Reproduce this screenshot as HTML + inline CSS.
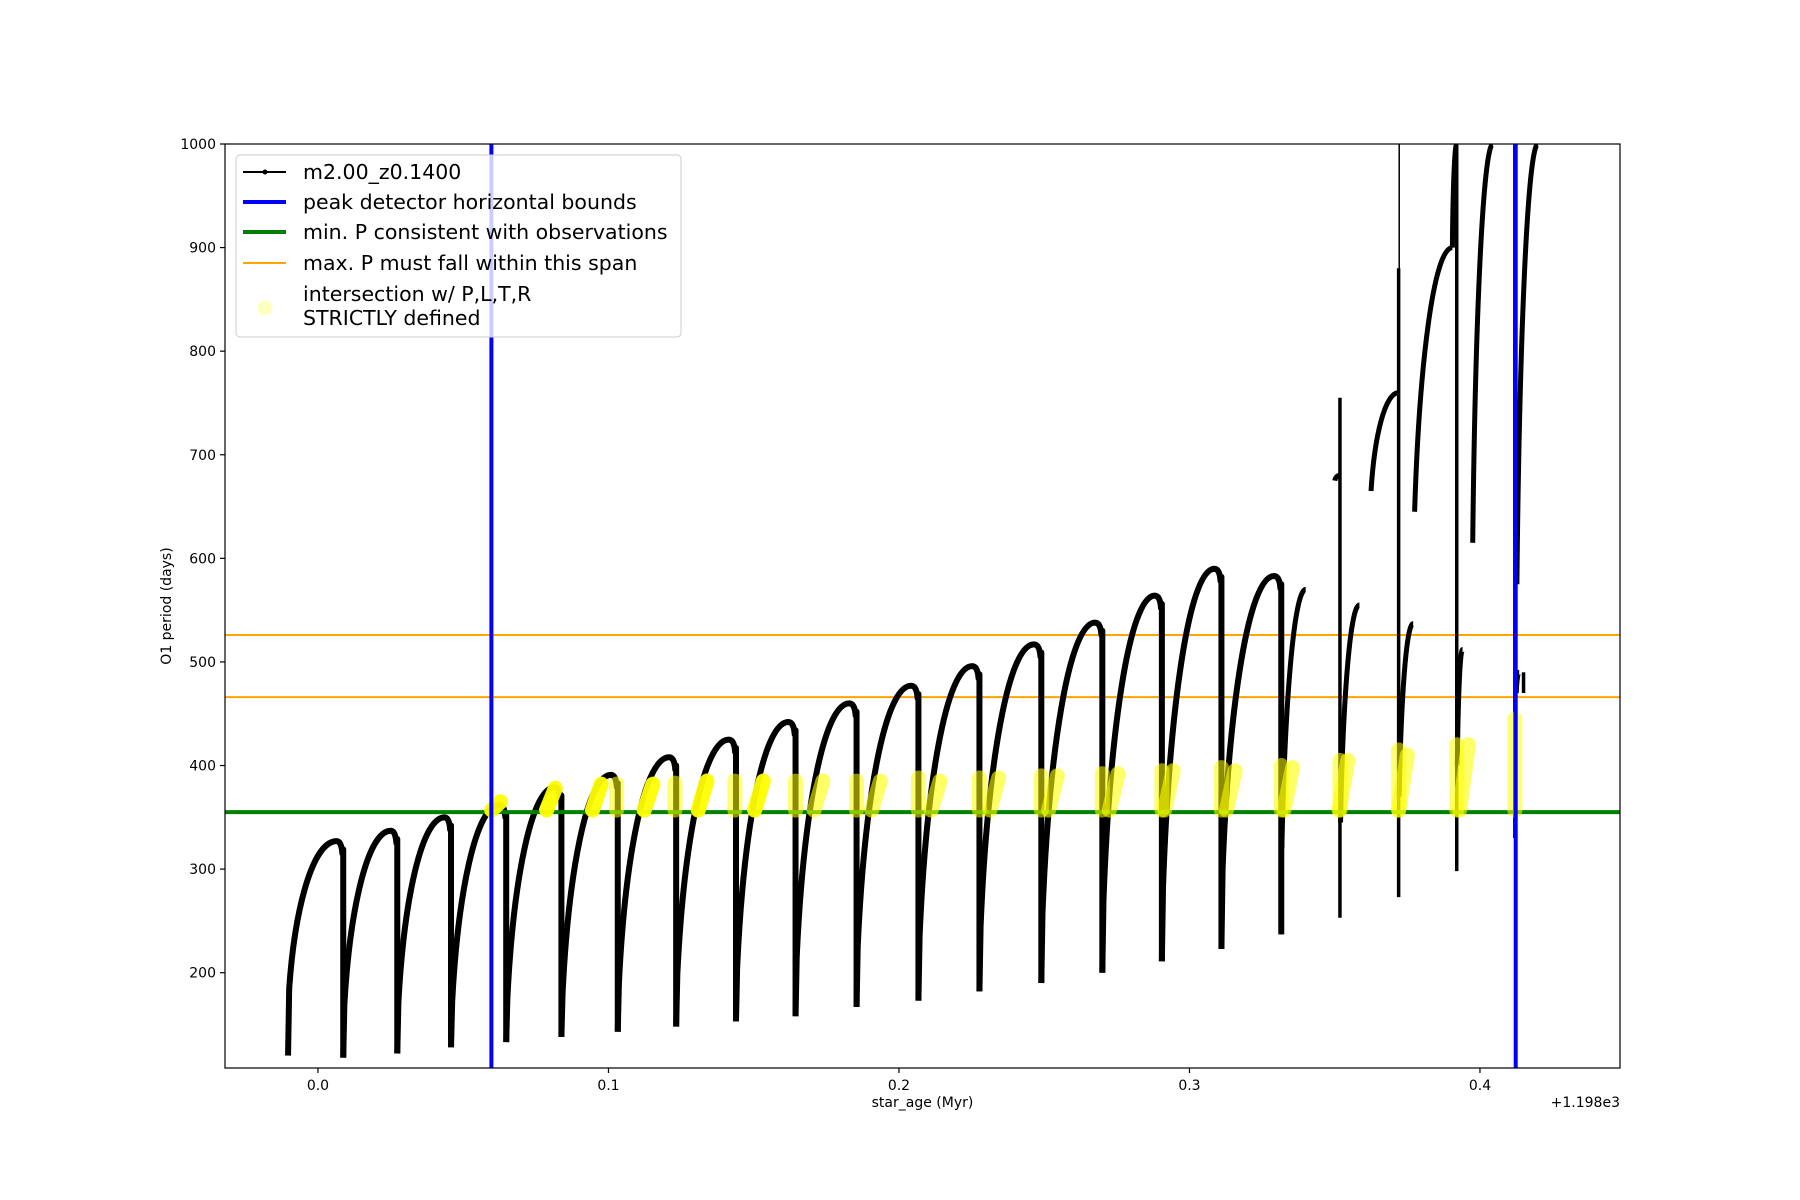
<!DOCTYPE html>
<html><head><meta charset="utf-8">
<style>
html,body{margin:0;padding:0;background:#fff;}
svg{display:block;font-family:"DejaVu Sans","Liberation Sans",sans-serif;}
</style></head>
<body>
<svg id="chart" width="1800" height="1200" viewBox="0 0 1800 1200" xmlns="http://www.w3.org/2000/svg">
<rect x="0" y="0" width="1800" height="1200" fill="#fff"/>
<g id="plot"></g>
<g id="axes"></g>
<g id="legend"></g>
</svg>
<script>
// ---- data ----
const pulseAges = [-0.0103, 0.0087, 0.0273, 0.0458, 0.0648, 0.0838, 0.1032, 0.1233, 0.1439, 0.1644, 0.1854, 0.2067, 0.2277, 0.249, 0.27, 0.2905, 0.311, 0.3316];
const troughP = [120, 118, 122, 128, 133, 138, 143, 148, 153, 158, 167, 173, 182, 190, 200, 211, 223, 237];
const restartP = [185, 170, 172, 172, 175, 180, 190, 198, 205, 215, 225, 235, 245, 257, 270, 283, 300];
const peakP = [327, 337, 350, 362, 379, 391, 408, 425, 442, 460, 477, 496, 517, 538, 564, 590, 583];
// late, irregular branches: [ageStart, pStart, ageEnd, pEnd]
const lateBranches = [
  [0.3318, 320, 0.3400, 570],
  [0.3520, 345, 0.3585, 555],
  [0.3722, 370, 0.3770, 537],
  [0.3922, 400, 0.3940, 512],
  [0.4125, 470, 0.4135, 490],
  [0.3500, 675, 0.3516, 680],
  [0.3625, 665, 0.3720, 760],
  [0.3775, 645, 0.3905, 900],
  [0.3905, 900, 0.3920, 1000],
  [0.3975, 615, 0.4045, 1000],
  [0.4127, 575, 0.4200, 1000]
];
// late vertical spikes: [age, pLow, pHigh]
const lateSpikes = [[0.3316, 237, 570], [0.3518, 253, 755], [0.3720, 273, 880], [0.3920, 298, 1000], [0.4120, 330, 1000], [0.4150, 470, 490]];
const thinSpikeAge = [0.3722];
// yellow intersection markers
const yellowRiseAges = [0.0613, 0.0802, 0.0960, 0.1138, 0.1324, 0.1518, 0.1723, 0.1921, 0.2126, 0.2328, 0.2530, 0.2739, 0.2929, 0.3142, 0.3340, 0.3530, 0.3735, 0.3945];
const yellowRiseHi = [365, 378, 382, 382, 385, 385, 385, 385, 385, 388, 390, 392, 395, 395, 398, 405, 410, 420];
const yellowDropAges = [0.1028, 0.1229, 0.1435, 0.1644, 0.1854, 0.2067, 0.2277, 0.249, 0.27, 0.2905, 0.311, 0.3316, 0.3518, 0.372, 0.392, 0.412];
const yellowDropHi = [382, 383, 385, 385, 385, 388, 388, 390, 392, 395, 398, 400, 405, 415, 420, 445];
const blueBounds = [0.0597, 0.4123];
const greenMinP = [355];
const orangeSpan = [466, 526];
const xTicks = [0.0, 0.1, 0.2, 0.3, 0.4];
const xTickLabels = ["0.0", "0.1", "0.2", "0.3", "0.4"];
const yTicks = [200, 300, 400, 500, 600, 700, 800, 900, 1000];
const yTickLabels = ["200", "300", "400", "500", "600", "700", "800", "900", "1000"];

// ---- axes ----
const L = 225, R = 1620, T = 144, B = 1068;
const xmin = -0.0320, xmax = 0.4482, ymin = 108, ymax = 1000;
function xS(v) { return L + (v - xmin) / (xmax - xmin) * (R - L); }
function yS(p) { return T + (ymax - p) / (ymax - ymin) * (B - T); }
const NS = "http://www.w3.org/2000/svg";
function mk(tag, parent, attrs) {
  const e = document.createElementNS(NS, tag);
  for (const k in attrs) e.setAttribute(k, attrs[k]);
  parent.appendChild(e);
  return e;
}
const plot = document.getElementById('plot');
const axes = document.getElementById('axes');
const legend = document.getElementById('legend');

const clip = mk('clipPath', plot, { id: 'clipA' });
mk('rect', clip, { x: L, y: T, width: R - L, height: B - T });
const g = mk('g', plot, { 'clip-path': 'url(#clipA)' });

function riseCurve(t0, r, t1, p) {
  const d = t1 - t0;
  return `C ${xS(t0 + 0.12 * d)} ${yS(r + 0.55 * (p - r))} ${xS(t0 + 0.5 * d)} ${yS(p)} ${xS(t1)} ${yS(p)}`;
}

for (let i = 0; i < orangeSpan.length; i++) {
  const o = mk('line', g, { x1: L, x2: R, y1: yS(orangeSpan[i]), y2: yS(orangeSpan[i]), stroke: '#ffa500', 'stroke-width': 2 });
  
  
}

for (let i = 0; i < peakP.length; i++) {
  const t0 = pulseAges[i], t1 = pulseAges[i + 1];
  const dur = t1 - t0;
  const peakT = t0 + 0.88 * dur;
  let d = `M ${xS(t0)} ${yS(troughP[i])} L ${xS(t0 + 0.0004)} ${yS(restartP[i])} `;
  d += riseCurve(t0 + 0.0004, restartP[i], peakT, peakP[i]);
  d += ` Q ${xS(t1 - 0.0006)} ${yS(peakP[i])} ${xS(t1 - 0.0003)} ${yS(peakP[i] - 12)}`;
  d += ` L ${xS(t1)} ${yS(peakP[i] - 8)} L ${xS(t1)} ${yS(troughP[i + 1])}`;
  const c = mk('path', g, { d: d, fill: 'none', stroke: '#000', 'stroke-width': 6, 'stroke-linejoin': 'round' });
  
  
}
for (let i = 0; i < lateBranches.length; i++) {
  const b = lateBranches[i];
  const d = `M ${xS(b[0])} ${yS(b[1])} ` + riseCurve(b[0], b[1], b[2], b[3]);
  const c = mk('path', g, { d: d, fill: 'none', stroke: '#000', 'stroke-width': 5 });
  
  
}
for (let i = 0; i < lateSpikes.length; i++) {
  const s = lateSpikes[i];
  const c = mk('line', g, { x1: xS(s[0]), x2: xS(s[0]), y1: yS(s[1]), y2: yS(s[2]), stroke: '#000', 'stroke-width': 3.5 });
  
  
}
for (let i = 0; i < thinSpikeAge.length; i++) {
  const c = mk('line', g, { x1: xS(thinSpikeAge[i]), x2: xS(thinSpikeAge[i]), y1: yS(ymax), y2: yS(600), stroke: '#000', 'stroke-width': 1.5 });
  
  
}

for (let i = 0; i < greenMinP.length; i++) {
  const gl = mk('line', g, { x1: L, x2: R, y1: yS(greenMinP[i]), y2: yS(greenMinP[i]), stroke: '#008000', 'stroke-width': 4 });
  
  
}

for (let i = 0; i < yellowRiseAges.length; i++) {
  const a = yellowRiseAges[i];
  const y = mk('line', g, { x1: xS(a - 0.0015), y1: yS(357), x2: xS(a + 0.0015), y2: yS(yellowRiseHi[i]), stroke: '#ffff00', 'stroke-opacity': i < 6 ? 0.95 : 0.6, 'stroke-width': 15, 'stroke-linecap': 'round' });
  
  
}
for (let i = 0; i < yellowDropAges.length; i++) {
  const a = yellowDropAges[i];
  const y = mk('line', g, { x1: xS(a), y1: yS(357), x2: xS(a), y2: yS(yellowDropHi[i]), stroke: '#ffff00', 'stroke-opacity': 0.55, 'stroke-width': 15, 'stroke-linecap': 'round' });
  
  
}

for (let i = 0; i < blueBounds.length; i++) {
  const bl = mk('line', g, { x1: xS(blueBounds[i]), x2: xS(blueBounds[i]), y1: T, y2: B, stroke: '#0000ff', 'stroke-width': 4 });
  
  
}

const fr = mk('rect', axes, { x: L, y: T, width: R - L, height: B - T, fill: 'none', stroke: '#000', 'stroke-width': 1.2 });


for (let i = 0; i < xTicks.length; i++) {
  const x = xS(xTicks[i]);
  const tk = mk('line', axes, { x1: x, x2: x, y1: B, y2: B + 5, stroke: '#000', 'stroke-width': 1.2 });
  
  
  const tl = mk('text', axes, { x: x, y: B + 22, 'font-size': 14, 'text-anchor': 'middle' });
  tl.textContent = xTickLabels[i];
  
  
}
for (let i = 0; i < yTicks.length; i++) {
  const y = yS(yTicks[i]);
  const tk = mk('line', axes, { x1: L - 5, x2: L, y1: y, y2: y, stroke: '#000', 'stroke-width': 1.2 });
  
  
  const tl = mk('text', axes, { x: L - 9, y: y + 5, 'font-size': 14, 'text-anchor': 'end' });
  tl.textContent = yTickLabels[i];
  
  
}
const off = mk('text', axes, { x: R, y: 1107, 'font-size': 14, 'text-anchor': 'end' });
off.textContent = '+1.198e3';


const xl = mk('text', axes, { x: (L + R) / 2, y: 1107, 'font-size': 14, 'text-anchor': 'middle' });
xl.textContent = 'star_age (Myr)';


const yl = mk('text', axes, { x: 171, y: (T + B) / 2, 'font-size': 14, 'text-anchor': 'middle', transform: `rotate(-90 171 ${(T + B) / 2})` });
yl.textContent = 'O1 period (days)';



const lb = mk('rect', legend, { x: 236, y: 155, width: 445, height: 182, rx: 4, fill: '#fff', 'fill-opacity': 0.8, stroke: '#ccc', 'stroke-width': 1 });


const legLabels = ['m2.00_z0.1400', 'peak detector horizontal bounds', 'min. P consistent with observations', 'max. P must fall within this span'];
const legColors = ['#000', '#0000ff', '#008000', '#ffa500'];
const legWidths = [2, 4, 4, 2];
const legY = [172, 202, 232, 263];
for (let i = 0; i < legLabels.length; i++) {
  const ln = mk('line', legend, { x1: 243, x2: 286, y1: legY[i], y2: legY[i], stroke: legColors[i], 'stroke-width': legWidths[i] });
  
  
  const tx = mk('text', legend, { x: 303, y: legY[i] + 7, 'font-size': 20.5 });
  tx.textContent = legLabels[i];
  
  
}
const dot = mk('circle', legend, { cx: 265, cy: legY[0], r: 2.5, fill: '#000' });


const yc = mk('circle', legend, { cx: 265, cy: 308, r: 7.5, fill: '#ffff00', 'fill-opacity': 0.25 });


const t1 = mk('text', legend, { x: 303, y: 301, 'font-size': 20.5 });
t1.textContent = 'intersection w/ P,L,T,R';


const t2 = mk('text', legend, { x: 303, y: 325, 'font-size': 20.5 });
t2.textContent = 'STRICTLY defined';


</script>
</body></html>
